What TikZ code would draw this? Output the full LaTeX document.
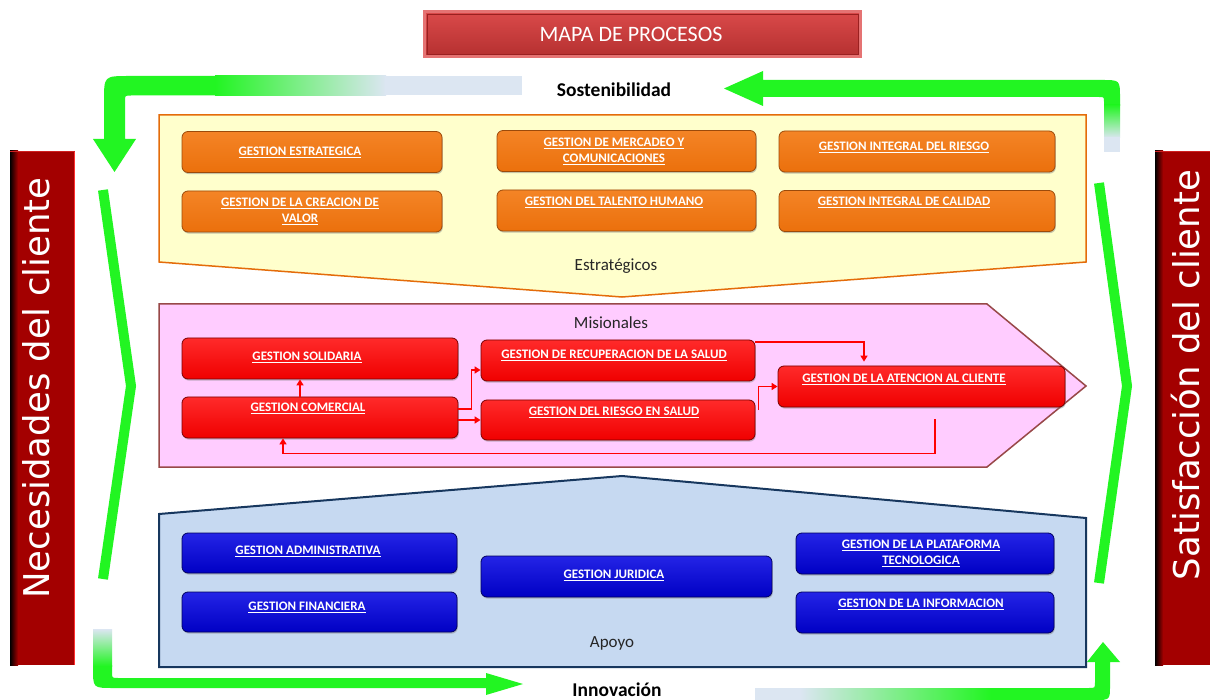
\documentclass[tikz,border=0pt]{standalone}
\usepackage{fontspec}
\setmainfont{Carlito}
\newfontfamily\sidefont{DejaVu Sans}
\usetikzlibrary{arrows.meta,shadows,calc}
\definecolor{gr}{HTML}{22F522}
\definecolor{pale}{HTML}{DCE6F2}
\definecolor{barred}{HTML}{A30000}
\definecolor{baredge}{HTML}{FF3030}
\definecolor{bartop}{HTML}{D02020}
\definecolor{estfill}{HTML}{FFFFCC}
\definecolor{estdraw}{HTML}{E46C0A}
\definecolor{misfill}{HTML}{FFCCFF}
\definecolor{misdraw}{HTML}{984848}
\definecolor{apofill}{HTML}{C6D9F1}
\definecolor{apodraw}{HTML}{17375E}
\definecolor{labgray}{HTML}{262626}
\definecolor{tdraw}{HTML}{E57373}
\definecolor{ttop}{HTML}{DA4A4A}
\definecolor{tbot}{HTML}{B53030}
\definecolor{tin}{HTML}{9A2020}
\definecolor{odraw}{HTML}{9C4A0A}
\definecolor{otop}{HTML}{F48426}
\definecolor{obot}{HTML}{EB700C}
\definecolor{rdraw}{HTML}{7A0000}
\definecolor{rtop}{HTML}{FF2A2A}
\definecolor{rbot}{HTML}{F00000}
\definecolor{bdraw}{HTML}{000060}
\definecolor{btop}{HTML}{2424E6}
\definecolor{bbot}{HTML}{0000C4}
\definecolor{connred}{HTML}{FF0000}
\tikzset{
  pbox/.style={rounded corners=6, minimum height=41, inner sep=0, line width=0.8,
    drop shadow={shadow xshift=0.8pt, shadow yshift=-1.6pt, opacity=0.45}},
  obox/.style={pbox, draw=odraw, top color=otop, bottom color=obot},
  rbox/.style={pbox, draw=rdraw, top color=rtop, bottom color=rbot},
  bbox/.style={pbox, draw=bdraw, top color=btop, bottom color=bbot},
  btxt/.style={text=white, font=\fontsize{13}{16}\selectfont\bfseries, align=center, inner sep=0},
  glab/.style={text=labgray, font=\fontsize{17}{20}\selectfont, inner sep=0},
  blab/.style={text=black, font=\fontsize{19.5}{22}\selectfont\bfseries, inner sep=0},
  side/.style={text=white, font=\sidefont\fontsize{35.5}{40}\selectfont, rotate=90, inner sep=0},
  conn/.style={draw=connred, line width=1.5, -{Triangle[length=6,width=7]}},
  chev/.style={draw=gr, line width=10, line join=miter},
}
\begin{document}
\begin{tikzpicture}[x=1pt,y=-1pt]
\useasboundingbox[fill=white] (0,0) rectangle (1210,700);

% ---- title
\node[rectangle, minimum width=436, minimum height=45, draw=tdraw, line width=3,
      top color=ttop, bottom color=tbot] (title) at (642.5,34) {};
\draw[tin, line width=0.8] ([shift={(4,4)}]title.north west) rectangle ([shift={(-4,-4)}]title.south east);
\node[text=white, font=\fontsize{22}{24}\selectfont, inner sep=0] (titlet) at (631,34) {MAPA DE PROCESOS};

% ---- side bars
\fill[barred] (10,151) rectangle (75,665);
\shade[left color=black, right color=barred] (10,151) rectangle (18,665);
\draw[baredge, line width=1.5] (74.5,151) -- (74.5,665);
\draw[bartop, line width=1.2] (10,151.5) -- (75,151.5);
\node[side] (nec) at (36,388) {Necesidades del cliente};

\fill[barred] (1155,151) rectangle (1210,665);
\shade[left color=black, right color=barred] (1155,151) rectangle (1163,665);
\draw[bartop, line width=1.2] (1155,151.5) -- (1210,151.5);
\node[side] (sat) at (1186,375) {Satisfacción del cliente};

% ---- green cycle arrows
% top-left
\fill[gr] (216,76) -- (129,76) .. controls (104,76) .. (104,101) -- (104,139) -- (93,139)
  -- (114.5,172) -- (136,139) -- (125,139) -- (125,101) .. controls (125,95.5) .. (131,95.5)
  -- (216,95.5) -- cycle;
\shade[left color=gr, right color=pale] (215,76) rectangle (386,95.5);
\fill[pale] (385,76) rectangle (522,95.5);
% top-right
\fill[gr] (724,88.5) -- (763,71) -- (763,80) -- (1102,80) .. controls (1120,80) .. (1120,98)
  -- (1120,106) -- (1104,106) -- (1104,102) .. controls (1104,97) .. (1099,97) -- (763,97)
  -- (763,106) -- cycle;
\shade[top color=gr, bottom color=pale] (1104,105) rectangle (1120,138);
\fill[pale] (1104,137.5) rectangle (1120,152);
% bottom-left
\fill[gr] (93,665) -- (93,668) .. controls (93,688) .. (113,688) -- (486,688) -- (486,695)
  -- (523,684) -- (486,673) -- (486,678) -- (118,678) .. controls (112,678) .. (112,672)
  -- (112,665) -- cycle;
\shade[top color=pale, bottom color=gr] (93,629) rectangle (112,666);
% bottom-right
\fill[gr] (990,688) -- (1089,688) .. controls (1095,688) .. (1095,682) -- (1095,662) -- (1087,662)
  -- (1103,642) -- (1120,662) -- (1110,662) -- (1110,685) .. controls (1110,700) .. (1095,700)
  -- (990,700) -- cycle;
\shade[left color=pale, right color=gr] (800,688) rectangle (991,700);
\fill[pale] (755,688) rectangle (801,700);

% chevrons
\draw[chev] (103,190) -- (131,386) -- (103,579);
\draw[chev] (1099,183) -- (1127,386) -- (1099,583);

% ---- process areas
\draw[fill=estfill, draw=estdraw, line width=1.5] (159,115) -- (1086,115) -- (1086,262) -- (622,297) -- (159,262) -- cycle;
\draw[fill=misfill, draw=misdraw, line width=1.5] (159,304) -- (987,304) -- (1086,386) -- (987,467) -- (159,467) -- cycle;
\draw[fill=apofill, draw=apodraw, line width=2] (159,514) -- (622,476) -- (1086,518) -- (1086,667) -- (159,667) -- cycle;

\node[blab] (sost) at (614,90) {Sostenibilidad};
\node[blab] (innov) at (617,690) {Innovación};
\node[glab] (estr) at (616,266) {Estratégicos};
\node[glab] (misi) at (611,323) {Misionales};
\node[glab] (apoy) at (612,643) {Apoyo};

% ---- strategic boxes
\node[obox, minimum width=260] (e1) at (312,152) {};
\node[obox, minimum width=260] (e2) at (312,211.5) {};
\node[obox, minimum width=259] (e3) at (626.5,151) {};
\node[obox, minimum width=259] (e4) at (626.5,210.5) {};
\node[obox, minimum width=276] (e5) at (917,151.5) {};
\node[obox, minimum width=276] (e6) at (917,211) {};
\node[btxt] (e1t) at (300,152) {\underline{GESTION ESTRATEGICA}};
\node[btxt] (e2t) at (300,211) {\underline{GESTION DE LA CREACION DE}\\\underline{VALOR}};
\node[btxt] (e3t) at (614,151) {\underline{GESTION DE MERCADEO Y}\\\underline{COMUNICACIONES}};
\node[btxt] (e4t) at (614,202) {\underline{GESTION DEL TALENTO HUMANO}};
\node[btxt] (e5t) at (904,147) {\underline{GESTION INTEGRAL DEL RIESGO}};
\node[btxt] (e6t) at (904,202) {\underline{GESTION INTEGRAL DE CALIDAD}};

% ---- misional boxes
\node[rbox, minimum width=276] (m1) at (320,358.5) {};
\node[rbox, minimum width=276] (m2) at (320,417.5) {};
\node[rbox, minimum width=274] (m3) at (618,360.5) {};
\node[rbox, minimum width=274, minimum height=40] (m4) at (618,420) {};
\node[rbox, minimum width=287] (m5) at (921.5,386.5) {};
\node[btxt] (m1t) at (307,357) {\underline{GESTION SOLIDARIA}};
\node[btxt] (m2t) at (308,408) {\underline{GESTION COMERCIAL}};
\node[btxt] (m3t) at (614,355) {\underline{GESTION DE RECUPERACION DE LA SALUD}};
\node[btxt] (m4t) at (614,412) {\underline{GESTION DEL RIESGO EN SALUD}};
\node[btxt] (m5t) at (904,379) {\underline{GESTION DE LA ATENCION AL CLIENTE}};

% ---- connectors
\draw[conn] ([xshift=-20]m2.north) -- ([xshift=-20]m1.south);
\draw[conn] ([yshift=8.5]m2.east) -- ++(13,0) |- ([yshift=-9.5]m3.west);
\draw[conn] (m2.east |- m4.west) -- (m4.west);
\draw[conn, shorten >=4] ([yshift=18.5]m3.east) -| ([xshift=-57.5]m5.north);
\draw[conn] ([xshift=3,yshift=10]m4.east) |- (m5.west);
\coordinate (lp) at ([xshift=13.5,yshift=-12]m5.south);
\draw[conn] (lp) -- ++(0,34) -| ([xshift=-37]m2.south);

% ---- support boxes
\node[bbox, minimum width=275, minimum height=40] (a1) at (319.5,553) {};
\node[bbox, minimum width=275, minimum height=40] (a2) at (319.5,612) {};
\node[bbox, minimum width=291] (a3) at (626.5,576.5) {};
\node[bbox, minimum width=258] (a4) at (925,553.5) {};
\node[bbox, minimum width=258] (a5) at (925,612.5) {};
\node[btxt] (a1t) at (308,551) {\underline{GESTION ADMINISTRATIVA}};
\node[btxt] (a2t) at (307,607) {\underline{GESTION FINANCIERA}};
\node[btxt] (a3t) at (614,575) {\underline{GESTION JURIDICA}};
\node[btxt] (a4t) at (921,553.5) {\underline{GESTION DE LA PLATAFORMA}\\\underline{TECNOLOGICA}};
\node[btxt] (a5t) at (921,604) {\underline{GESTION DE LA INFORMACION}};
\end{tikzpicture}
\end{document}
